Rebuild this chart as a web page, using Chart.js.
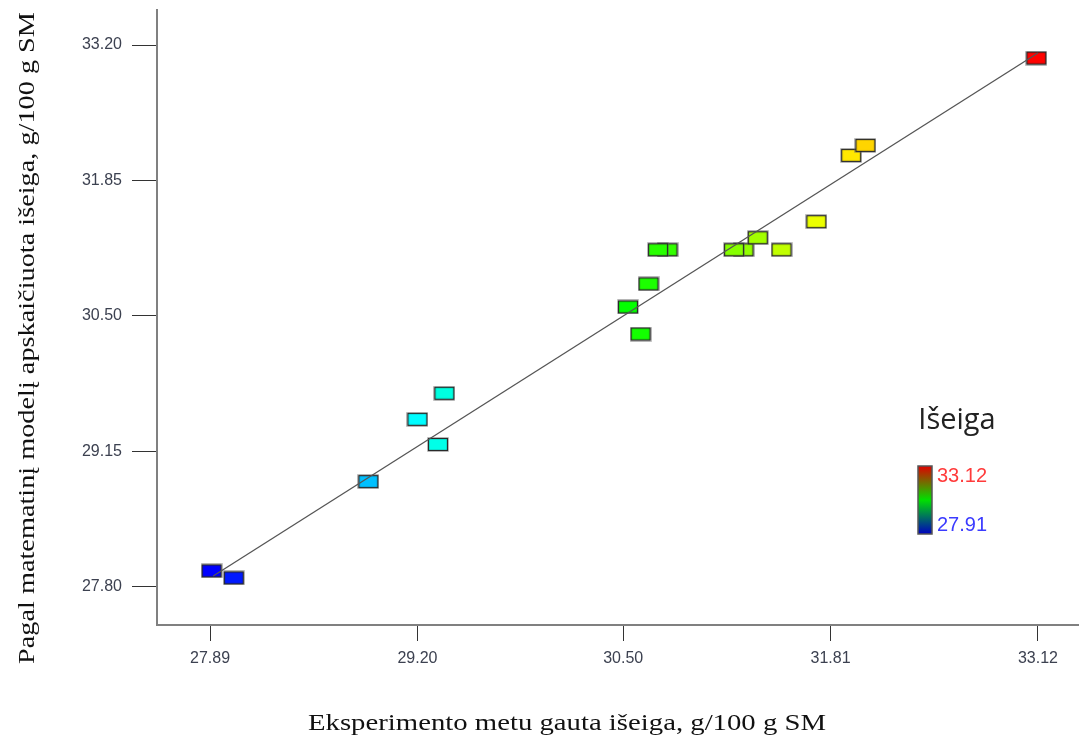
<!DOCTYPE html>
<html lang="lt">
<head>
<meta charset="UTF-8">
<title>Išeiga</title>
<script src="https://cdn.jsdelivr.net/npm/chart.js"></script>
<style>
  body { margin: 0; background: #fff; overflow: hidden; }
  #wrap { width: 1087px; height: 742px; position: relative; }
</style>
</head>
<body>
<div id="wrap"><canvas id="grafikas"></canvas></div>
<script>
// eksperimento metu gauta ir modelio apskaiciuota iseiga, g/100 g SM
const eksperimentas = [27.90, 28.04, 28.89, 29.20, 29.37, 29.33, 30.53, 30.61, 30.66, 30.78, 30.72, 31.26, 31.20, 31.35, 31.50, 31.72, 31.94, 32.03, 33.11];
const modelis       = [27.96, 27.89, 28.85, 29.47, 29.73, 29.22, 30.59, 30.32, 30.82, 31.16, 31.16, 31.16, 31.16, 31.28, 31.16, 31.44, 32.10, 32.20, 33.07];

const xTicks = [27.89, 29.20, 30.50, 31.81, 33.12];
const yTicks = [27.80, 29.15, 30.50, 31.85, 33.20];

const linijaX = [27.91, 33.12];
const linijaY = [27.91, 33.12];

const spalvuMin = 27.91;
const spalvuMax = 33.12;

// melyna -> zydra -> zalia -> geltona -> raudona
function spalva(v) {
  let t = (v - spalvuMin) / (spalvuMax - spalvuMin);
  t = Math.max(0, Math.min(1, t));
  const st = [[0, 0, 0, 255], [0.25, 0, 255, 255], [0.5, 0, 255, 0], [0.75, 255, 255, 0], [1, 255, 0, 0]];
  for (let i = 1; i < st.length; i++) {
    if (t <= st[i][0]) {
      const a = st[i - 1], b = st[i];
      const k = (t - a[0]) / (b[0] - a[0]);
      const c = [1, 2, 3].map(j => Math.round(a[j] + (b[j] - a[j]) * k));
      return 'rgb(' + c.join(',') + ')';
    }
  }
  return 'rgb(255,0,0)';
}

function zenklas(c) {
  const cv = document.createElement('canvas');
  cv.width = 22; cv.height = 15;
  const g = cv.getContext('2d');
  g.fillStyle = 'rgba(120,120,120,0.35)';
  g.fillRect(0, 0, 22, 15);
  g.fillStyle = c;
  g.fillRect(1.5, 1.5, 19, 12);
  g.strokeStyle = '#2a2a2a';
  g.lineWidth = 1.3;
  g.strokeRect(1.5, 1.5, 19, 12);
  return cv;
}

const taskai = eksperimentas.map((v, i) => ({ x: v, y: modelis[i] }));
const zenklai = eksperimentas.map(v => zenklas(spalva(v)));

// tekstas ištemptas horizontaliai iki norimo ilgio
function tekstas(ctx, t, x, y, ilgis) {
  const w = ctx.measureText(t).width;
  ctx.save();
  ctx.translate(x, y);
  ctx.scale(ilgis / w, 1);
  ctx.fillText(t, 0, 0);
  ctx.restore();
}

const papildomas = {
  id: 'papildomas',
  afterDraw(chart) {
    const ctx = chart.ctx;
    ctx.save();
    ctx.fillStyle = '#111';
    ctx.font = '23px "Liberation Serif"';
    ctx.textAlign = 'center';
    ctx.textBaseline = 'alphabetic';
    tekstas(ctx, 'Eksperimento metu gauta išeiga, g/100 g SM', 567, 730, 518);
    ctx.save();
    ctx.translate(34, 338);
    ctx.rotate(-Math.PI / 2);
    tekstas(ctx, 'Pagal matematinį modelį apskaičiuota išeiga, g/100 g SM', 0, 0, 652);
    ctx.restore();

    // spalvu skale
    ctx.font = '29px "Open Sans"';
    ctx.fillStyle = '#222';
    ctx.textBaseline = 'middle';
    ctx.fillText('Išeiga', 957, 421);
    const gr = ctx.createLinearGradient(0, 466, 0, 534);
    gr.addColorStop(0, '#e00000');
    gr.addColorStop(0.5, '#00e000');
    gr.addColorStop(1, '#0000c0');
    ctx.fillStyle = gr;
    ctx.fillRect(918, 466, 14, 68);
    ctx.strokeStyle = '#555';
    ctx.lineWidth = 1.5;
    ctx.strokeRect(918, 466, 14, 68);
    ctx.font = '20px "Liberation Sans"';
    ctx.textAlign = 'left';
    ctx.fillStyle = '#ff3b3b';
    ctx.fillText(spalvuMax.toFixed(2), 937, 476);
    ctx.fillStyle = '#3b3bff';
    ctx.fillText(spalvuMin.toFixed(2), 937, 525);
    ctx.restore();
  }
};

new Chart(document.getElementById('grafikas'), {
  type: 'scatter',
  data: {
    datasets: [
      {
        type: 'line',
        data: linijaX.map((v, i) => ({ x: v, y: linijaY[i] })),
        borderColor: '#555',
        borderWidth: 1.3,
        pointRadius: 0,
        fill: false
      },
      {
        data: taskai,
        pointStyle: ctx => zenklai[ctx.dataIndex],
        pointRadius: 8,
        pointHoverRadius: 8
      }
    ]
  },
  options: {
    responsive: true,
    maintainAspectRatio: false,
    animation: false,
    layout: { padding: { top: 10, right: 3, left: 0, bottom: 0 } },
    plugins: { legend: { display: false }, tooltip: { enabled: false } },
    scales: {
      x: {
        type: 'linear',
        min: 27.555,
        max: 33.373,
        afterBuildTicks: s => { s.ticks = xTicks.map(v => ({ value: v })); },
        afterFit: s => { s.height = 117; s.paddingLeft = 0; s.paddingRight = 0; },
        ticks: {
          callback: v => v.toFixed(2),
          font: { family: 'Liberation Sans', size: 16 },
          color: '#3c4150',
          padding: 8,
          maxRotation: 0
        },
        grid: { drawOnChartArea: false, drawTicks: true, tickLength: 16, color: '#333' },
        border: { display: true, color: '#808080', width: 2 }
      },
      y: {
        type: 'linear',
        min: 27.421,
        max: 33.549,
        afterBuildTicks: s => { s.ticks = yTicks.map(v => ({ value: v })); },
        afterFit: s => { s.width = 157; s.paddingTop = 0; s.paddingBottom = 0; },
        ticks: {
          callback: v => v.toFixed(2),
          font: { family: 'Liberation Sans', size: 16 },
          color: '#3c4150',
          padding: 10
        },
        grid: { drawOnChartArea: false, drawTicks: true, tickLength: 25, color: '#333' },
        border: { display: true, color: '#808080', width: 2 }
      }
    }
  },
  plugins: [papildomas]
});
</script>
</body>
</html>
